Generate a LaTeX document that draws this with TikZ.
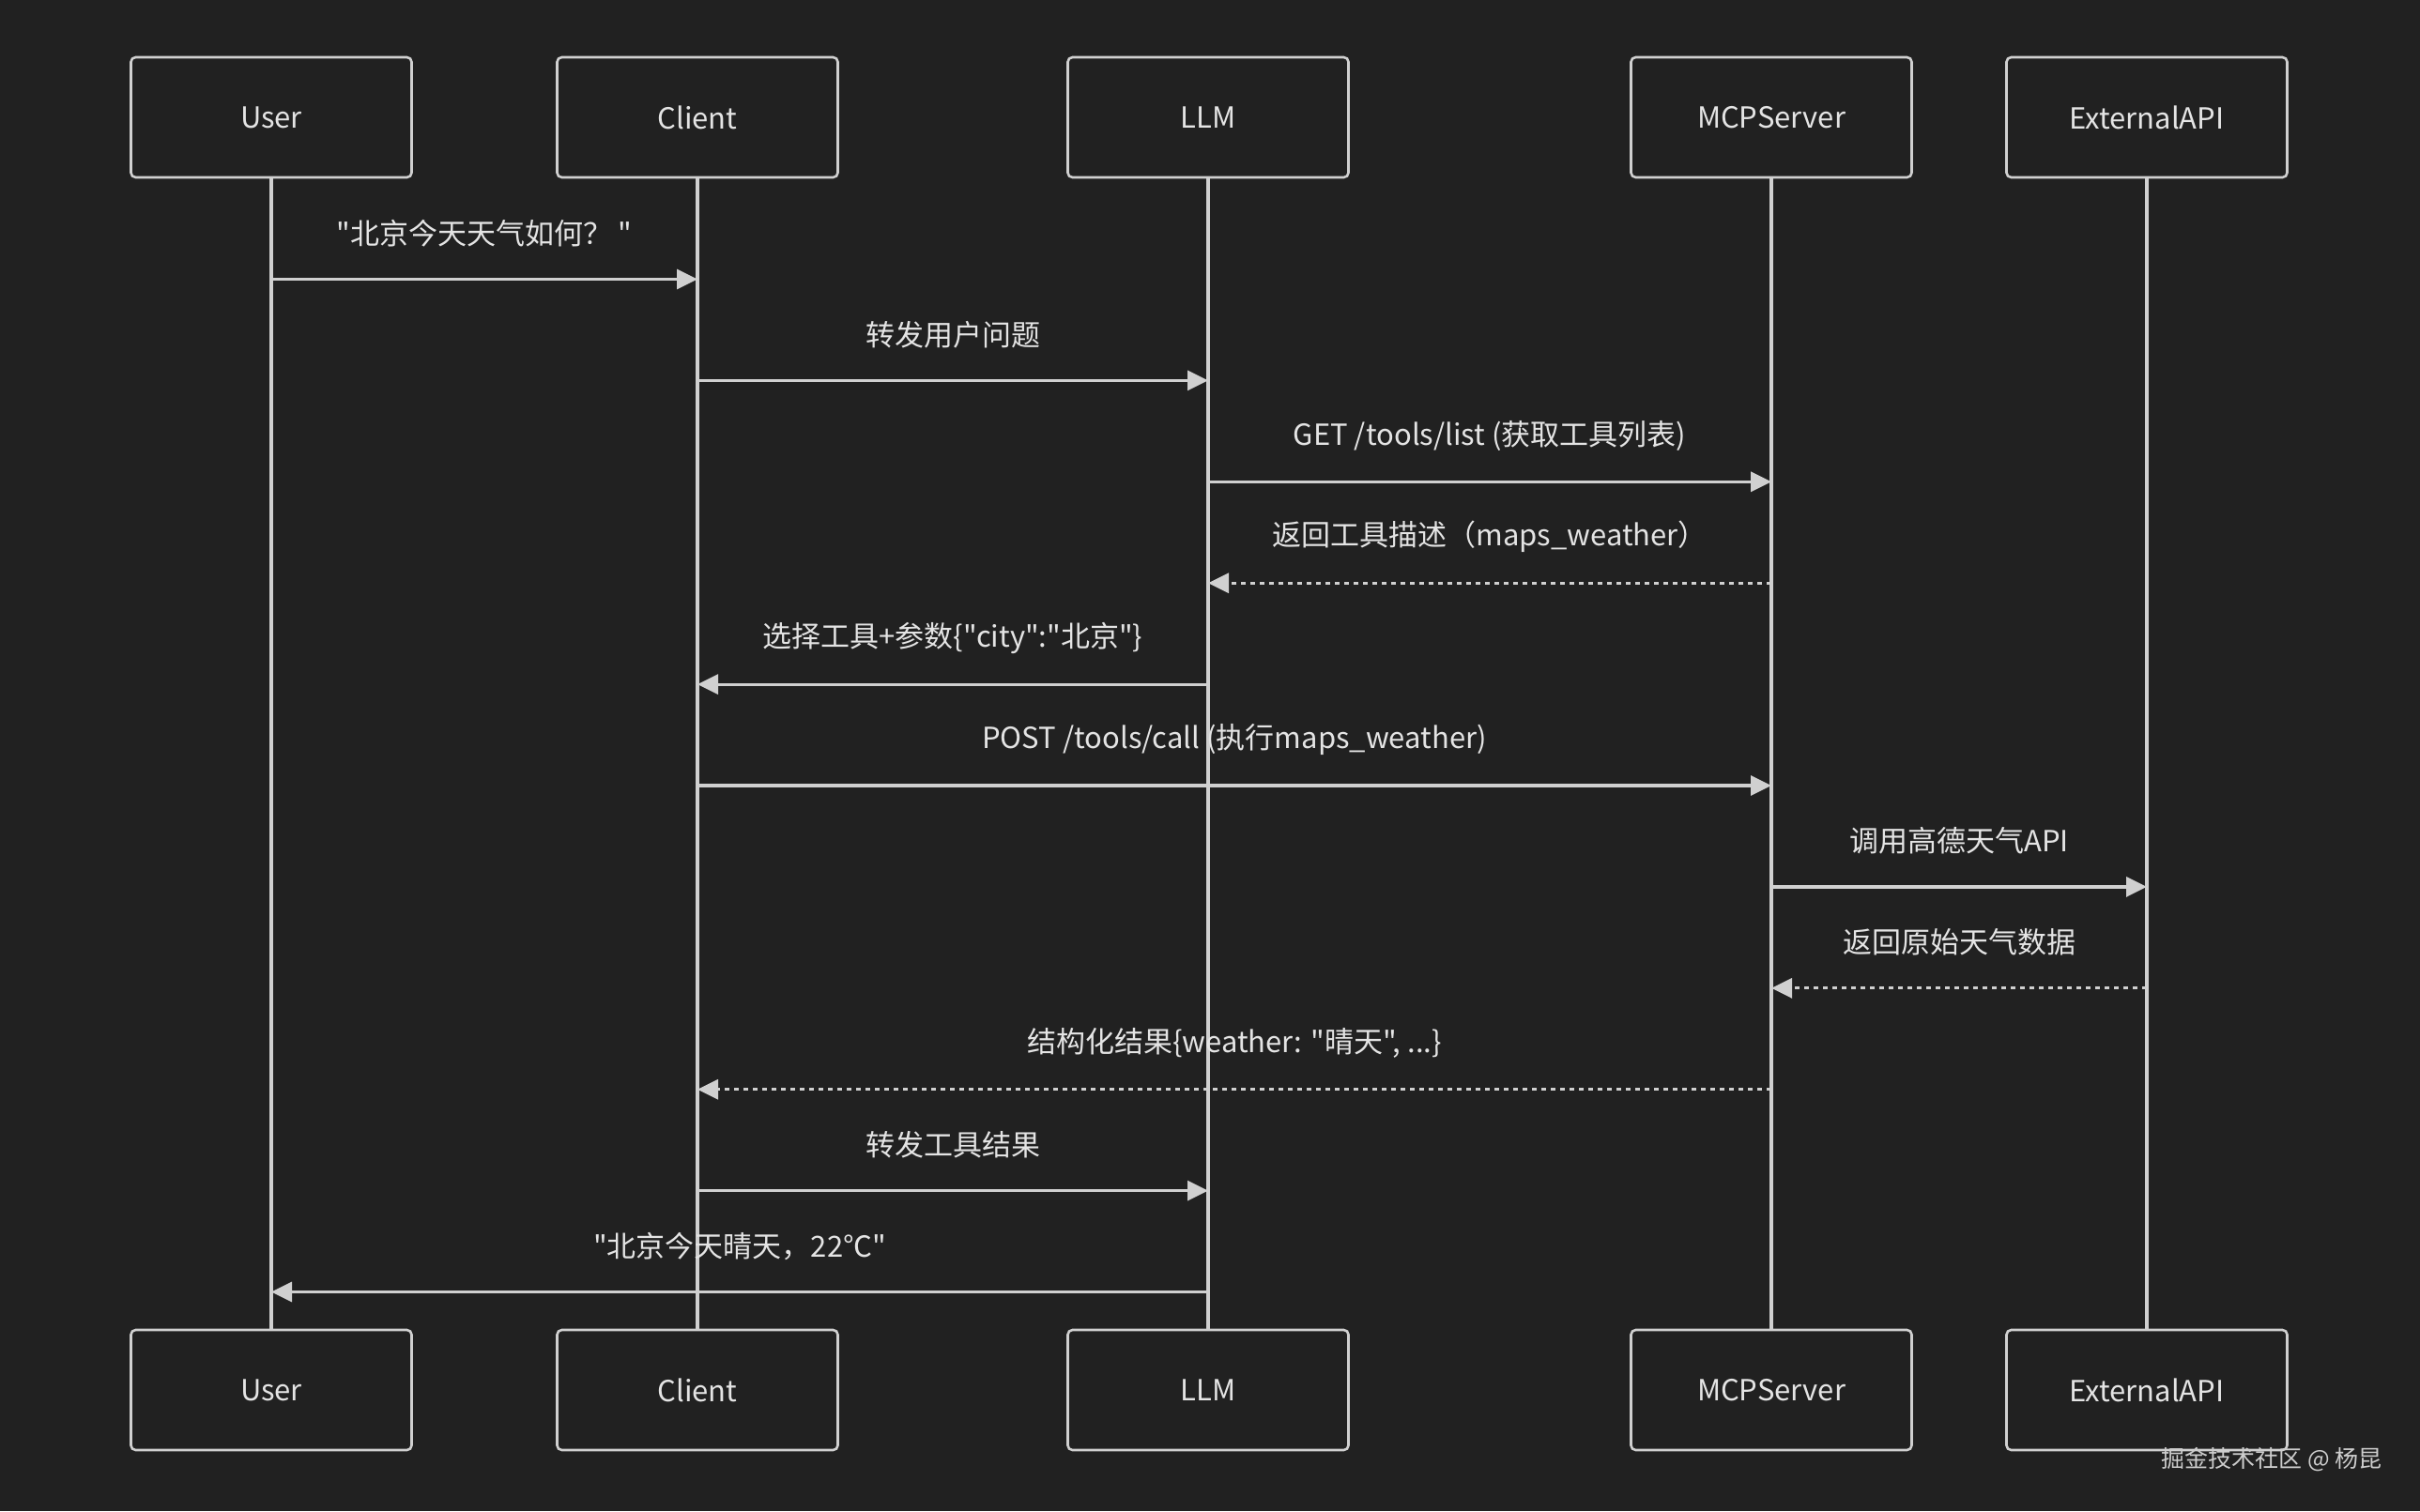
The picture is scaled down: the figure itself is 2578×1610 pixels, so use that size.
\documentclass[tikz,border=0pt]{standalone}
\usepackage{fontspec}
\setmainfont{Noto Sans CJK SC}[Ligatures=TeXOff]
\usetikzlibrary{arrows.meta}
\definecolor{bgc}{HTML}{212121}
\definecolor{linec}{HTML}{D0D0D0}
\definecolor{txtc}{HTML}{E4E4E4}
\begin{document}
\begin{tikzpicture}[x=1pt,y=-1pt,
  actor/.style={draw=linec, line width=2.6pt, fill=bgc, rounded corners=5pt,
    minimum width=299pt, minimum height=128pt, inner sep=0pt, text=txtc,
    font=\fontsize{31}{36}\selectfont},
  life/.style={draw=linec, line width=3.3pt},
  msg/.style={draw=linec, line width=3.2pt, -{Triangle[length=22pt,width=21pt]}},
  reply/.style={msg, dash pattern=on 5pt off 5pt},
  lbl/.style={midway, yshift=49pt, inner sep=0pt, text=txtc,
    font=\fontsize{31}{36}\selectfont},
  wmark/.style={text=txtc!90!black, font=\fontsize{25}{30}\selectfont, inner sep=0pt}
]
\fill[bgc] (0,0) rectangle (2578,1610);
\useasboundingbox (0,0) rectangle (2578,1610);

% actors
\node[actor] (uT) at (289,125) {User};
\node[actor] (cT) at (743,125) {Client};
\node[actor] (lT) at (1287,125) {LLM};
\node[actor] (mT) at (1887,125) {MCPServer};
\node[actor] (eT) at (2287,125) {ExternalAPI};
\node[actor] (uB) at (289,1481) {User};
\node[actor] (cB) at (743,1481) {Client};
\node[actor] (lB) at (1287,1481) {LLM};
\node[actor] (mB) at (1887,1481) {MCPServer};
\node[actor] (eB) at (2287,1481) {ExternalAPI};

% lifelines
\draw[life] (uT.south) -- (uB.north);
\draw[life] (cT.south) -- (cB.north);
\draw[life] (lT.south) -- (lB.north);
\draw[life] (mT.south) -- (mB.north);
\draw[life] (eT.south) -- (eB.north);

% rows
\foreach \k in {1,...,11} {
  \coordinate (r\k) at (0,{297.5+107.9*(\k-1)});
}

\draw[msg] (uT |- r1) -- node[lbl] {"北京今天天气如何？ "} (cT |- r1);
\draw[msg] (cT |- r2) -- node[lbl] {转发用户问题} (lT |- r2);
\draw[msg] (lT |- r3) -- node[lbl] {GET /tools/list (获取工具列表)} (mT |- r3);
\draw[reply] (mT |- r4) -- node[lbl] {返回工具描述（maps\_weather）} (lT |- r4);
\draw[msg] (lT |- r5) -- node[lbl] {选择工具+参数\{"city":"北京"\}} (cT |- r5);
\draw[msg] (cT |- r6) -- node[lbl] {POST /tools/call (执行maps\_weather)} (mT |- r6);
\draw[msg] (mT |- r7) -- node[lbl] {调用高德天气API} (eT |- r7);
\draw[reply] (eT |- r8) -- node[lbl] {返回原始天气数据} (mT |- r8);
\draw[reply] (mT |- r9) -- node[lbl] {结构化结果\{weather: "晴天", ...\}} (cT |- r9);
\draw[msg] (cT |- r10) -- node[lbl] {转发工具结果} (lT |- r10);
\draw[msg] (lT |- r11) -- node[lbl] {"北京今天晴天，22℃"} (uT |- r11);

\node[wmark] (wm) at (2420,1555) {掘金技术社区 @ 杨昆};
\end{tikzpicture}
\end{document}
